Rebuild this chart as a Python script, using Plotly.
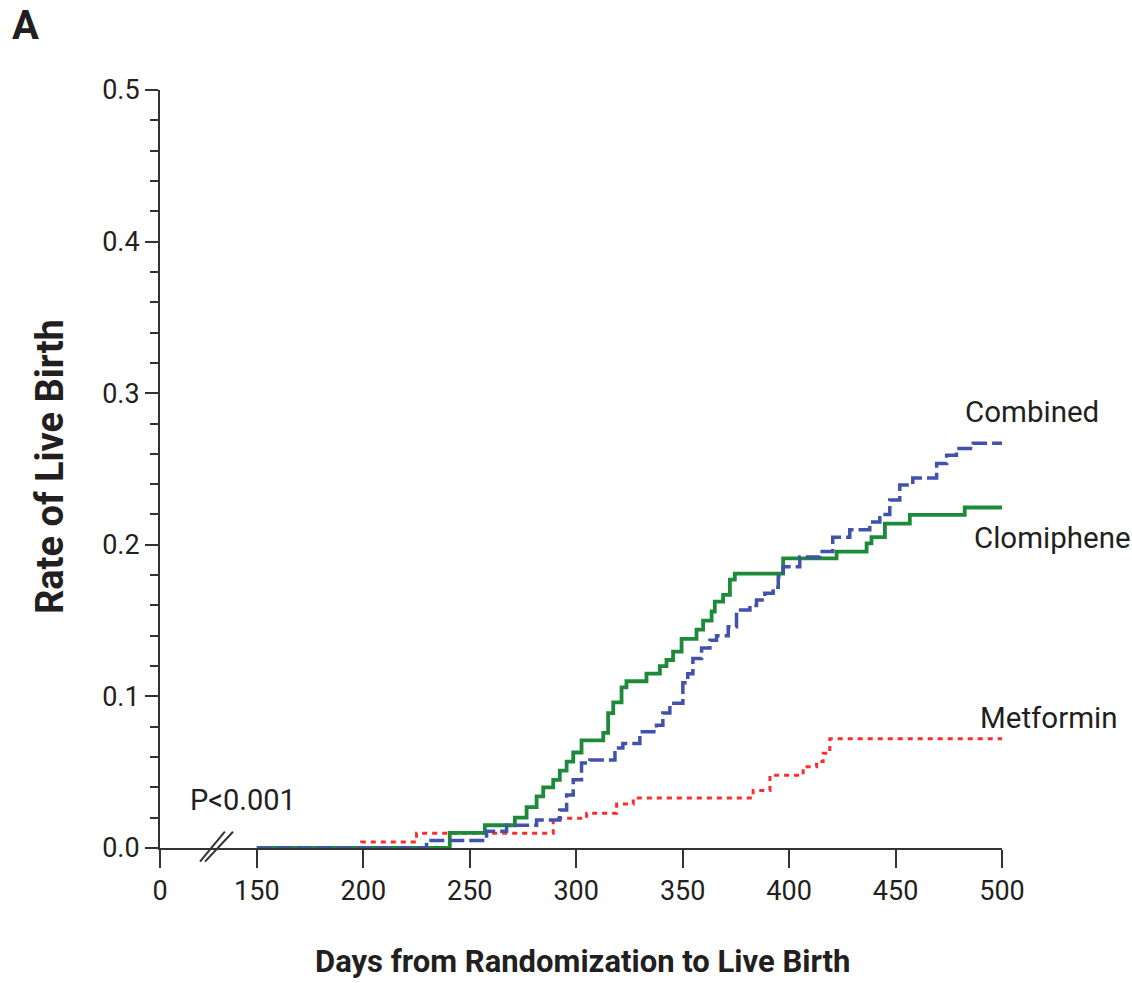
import plotly.graph_objects as go

# ---------------- data ----------------
clomiphene_days = [150, 240.6, 257.1, 271.2, 276.7, 281.4, 284.5, 289.2, 292.3, 295.5,
                   298.6, 302.5, 312.7, 315.0, 317.4, 321.3, 323.6, 333.0, 339.3, 342.4,
                   345.5, 349.5, 356.5, 359.6, 363.6, 365.1, 369.0, 372.2, 374.5, 397.2,
                   422.3, 436.4, 438.7, 445.0, 456.7, 482.5, 500]
clomiphene_rate = [0, 0.010, 0.015, 0.020, 0.027, 0.034, 0.040, 0.045, 0.051, 0.057,
                   0.063, 0.071, 0.076, 0.089, 0.096, 0.106, 0.110, 0.115, 0.120, 0.124,
                   0.1295, 0.138, 0.144, 0.150, 0.156, 0.1625, 0.167, 0.177, 0.181, 0.191,
                   0.1955, 0.201, 0.205, 0.214, 0.2197, 0.2246, 0.2246]

combined_days = [150, 229.7, 257.9, 267.3, 281.4, 292.3, 295.5, 298.6, 302.5, 306.4,
                 318.2, 321.9, 329.9, 337.7, 340.7, 344.0, 350.1, 352.4, 354.8, 358.9,
                 362.8, 365.9, 371.4, 375.3, 381.6, 384.7, 388.6, 392.5, 394.9, 397.2,
                 405.0, 414.4, 420.5, 428.5, 437.9, 442.6, 447.3, 452.0, 458.1, 469.3,
                 474.0, 478.6, 486.5, 500]
combined_rate = [0, 0.005, 0.011, 0.015, 0.0185, 0.025, 0.035, 0.045, 0.056, 0.058,
                 0.066, 0.069, 0.0767, 0.081, 0.089, 0.0955, 0.109, 0.115, 0.125, 0.132,
                 0.137, 0.140, 0.146, 0.157, 0.160, 0.1636, 0.168, 0.172, 0.179, 0.1855,
                 0.192, 0.1955, 0.205, 0.210, 0.215, 0.220, 0.2296, 0.2395, 0.244, 0.2537,
                 0.259, 0.2636, 0.267, 0.267]

metformin_days = [150, 199.2, 225.0, 289.2, 304.9, 319.0, 326.8, 383.1, 391.0, 406.6,
                  412.9, 416.0, 419.1, 500]
metformin_rate = [0, 0.004, 0.0097, 0.0196, 0.0229, 0.029, 0.033, 0.038, 0.048, 0.0536,
                  0.057, 0.0625, 0.072, 0.072]

x_tick_days = [0, 150, 200, 250, 300, 350, 400, 450, 500]
x_tick_labels = ["0", "150", "200", "250", "300", "350", "400", "450", "500"]
y_tick_vals = [0.0, 0.1, 0.2, 0.3, 0.4, 0.5]

series_names = ["Metformin", "Clomiphene", "Combined"]
p_value_text = "P<0.001"

# ---------------- layout constants ----------------
BREAK_POS = 104.5  # axis position where the "0" (before the break) is drawn
FONT = "Roboto, sans-serif"
TXT = "#231f20"

def axis_pos(d):
    return BREAK_POS if d == 0 else d

fig = go.Figure()
fig.add_trace(go.Scatter(x=metformin_days, y=metformin_rate, mode="lines",
                         line=dict(shape="hv", color="#ff2b2b", width=3, dash="5px,5px"),
                         name=series_names[0], showlegend=False))
fig.add_trace(go.Scatter(x=clomiphene_days, y=clomiphene_rate, mode="lines",
                         line=dict(shape="hv", color="#1d8a3a", width=3.8),
                         name=series_names[1], showlegend=False))
fig.add_trace(go.Scatter(x=combined_days, y=combined_rate, mode="lines",
                         line=dict(shape="hv", color="#4152ad", width=3.5, dash="15px,5px"),
                         name=series_names[2], showlegend=False))

# series labels at the line ends
fig.add_annotation(x=481.7, y=0.2876, text=series_names[2], showarrow=False,
                   xanchor="left", yanchor="middle", font=dict(family=FONT, size=29.5, color=TXT))
fig.add_annotation(x=485.9, y=0.2045, text=series_names[1], showarrow=False,
                   xanchor="left", yanchor="middle", font=dict(family=FONT, size=29.5, color=TXT))
fig.add_annotation(x=488.7, y=0.0858, text=series_names[0], showarrow=False,
                   xanchor="left", yanchor="middle", font=dict(family=FONT, size=29.5, color=TXT))
fig.add_annotation(x=117.7, y=0.0317, text=p_value_text, showarrow=False,
                   xanchor="left", yanchor="middle", font=dict(family=FONT, size=29, color=TXT))

# panel letter and axis titles
fig.add_annotation(x=-0.16, y=1.085, xref="paper", yref="paper", text="<b>A</b>",
                   showarrow=False, xanchor="center", yanchor="middle",
                   font=dict(family=FONT, size=40, color=TXT))
fig.add_annotation(x=0.502, y=-0.150, xref="paper", yref="paper",
                   text="<b>Days from Randomization to Live Birth</b>", showarrow=False,
                   xanchor="center", yanchor="middle", font=dict(family=FONT, size=31, color=TXT))
fig.add_annotation(x=-0.1306, y=0.5026, xref="paper", yref="paper",
                   text="<b>Rate of Live Birth</b>", showarrow=False, textangle=-90,
                   xanchor="center", yanchor="middle", font=dict(family=FONT, size=38, color=TXT))

# axis-break marks "//"
for x0, x1 in [(0.0475, 0.077), (0.0535, 0.0867)]:
    fig.add_shape(type="line", xref="paper", yref="paper", x0=x0, y0=-0.018, x1=x1, y1=0.0215,
                  line=dict(color="#333333", width=2))

fig.update_layout(
    width=1132, height=983,
    margin=dict(l=160, r=130, t=90, b=135),
    paper_bgcolor="white", plot_bgcolor="white",
    font=dict(family=FONT, size=27, color=TXT),
    xaxis=dict(range=[BREAK_POS, 500], tickvals=[axis_pos(d) for d in x_tick_days],
               ticktext=x_tick_labels, ticks="outside", ticklen=18, tickwidth=2,
               tickcolor="#333333", showline=True, linecolor="#333333", linewidth=2,
               showgrid=False, zeroline=False, layer="below traces",
               tickfont=dict(family=FONT, size=27, color=TXT)),
    yaxis=dict(range=[0, 0.5], tickvals=y_tick_vals, tickformat=".1f",
               ticks="outside", ticklen=13, tickwidth=2, tickcolor="#333333",
               showline=True, linecolor="#333333", linewidth=2, showgrid=False,
               zeroline=False, layer="below traces",
               minor=dict(dtick=0.02, ticks="outside", ticklen=8, tickwidth=2,
                          tickcolor="#333333", showgrid=False),
               tickfont=dict(family=FONT, size=27, color=TXT)),
)

fig.write_html("out.html")
